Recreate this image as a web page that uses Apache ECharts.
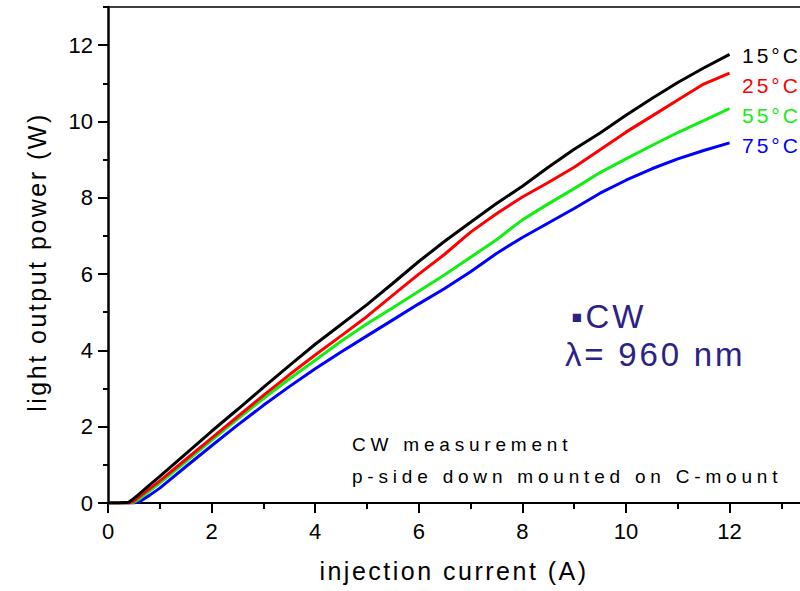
<!DOCTYPE html>
<html><head><meta charset="utf-8">
<script src="https://cdn.jsdelivr.net/npm/echarts@6/dist/echarts.min.js"></script>
<style>
html,body{margin:0;padding:0;background:#fff}
#chart{width:800px;height:591px}
#chart text[style*="19px"]{letter-spacing:4.8px}
#chart text[style*="25px"]{letter-spacing:2.5px}
#chart text[style*="21px"]{letter-spacing:3px}
#chart text[style*="33px"]{letter-spacing:2.8px}
</style></head><body><div id="chart"></div>
<script>
// injection current (A)
const current = [0, 0.2, 0.4, 0.5, 0.6, 0.8, 1, 1.5, 2, 2.5, 3, 3.5, 4, 4.5, 5, 5.5, 6, 6.5, 7, 7.5, 8, 8.5, 9, 9.5, 10, 10.5, 11, 11.5, 12];
// light output power (W)
const power15 = [0, 0, 0.02, 0.12, 0.23, 0.47, 0.70, 1.29, 1.88, 2.45, 3.03, 3.60, 4.16, 4.68, 5.20, 5.76, 6.33, 6.86, 7.36, 7.85, 8.30, 8.80, 9.27, 9.70, 10.16, 10.60, 11.02, 11.40, 11.76];
const power25 = [0, 0, 0, 0.05, 0.16, 0.37, 0.58, 1.14, 1.70, 2.26, 2.82, 3.36, 3.88, 4.38, 4.89, 5.45, 6.00, 6.52, 7.10, 7.58, 8.02, 8.40, 8.80, 9.26, 9.72, 10.14, 10.56, 10.98, 11.27];
const power55 = [0, 0, 0, 0.02, 0.10, 0.31, 0.52, 1.08, 1.64, 2.20, 2.74, 3.25, 3.74, 4.24, 4.70, 5.12, 5.55, 5.98, 6.44, 6.90, 7.42, 7.84, 8.24, 8.66, 9.02, 9.37, 9.71, 10.02, 10.34];
const power75 = [0, 0, 0, 0, 0.03, 0.20, 0.39, 0.95, 1.50, 2.04, 2.56, 3.05, 3.52, 3.96, 4.38, 4.80, 5.22, 5.62, 6.06, 6.54, 6.96, 7.34, 7.72, 8.12, 8.46, 8.76, 9.02, 9.24, 9.44];
const seriesNames = ['15°C', '25°C', '55°C', '75°C'];
const seriesColors = ['#000000', '#ff0000', '#11ee11', '#0000ff'];
// tick values
const xMajorTicks = [0, 2, 4, 6, 8, 10, 12];
const xMinorTicks = [1, 3, 5, 7, 9, 11, 13];
const yMajorTicks = [0, 2, 4, 6, 8, 10, 12];
const yMinorTicks = [1, 3, 5, 7, 9, 11, 13];
const xTitle = 'injection current (A)';
const yTitle = 'light output power (W)';
const noteLines = ['CW measurement', 'p-side down mounted on C-mount'];
const cwText = '▪CW';
const lambdaText = 'λ= 960 nm';

const FONT = "'Liberation Sans', Arial, sans-serif";
const pair = arr => current.map((c, i) => [c, arr[i]]);
const allPowers = [power15, power25, power55, power75];

const XMAX = 13.36, YMAX = 13;
const chart = echarts.init(document.getElementById('chart'), null, {renderer: 'svg'});
const axisLineStyle = {color: '#000', width: 2};
chart.setOption({
  animation: false,
  backgroundColor: '#fff',
  grid: {left: 108, right: 0, top: 7, bottom: 88, containLabel: false},
  xAxis: [
    {type: 'value', min: 0, max: XMAX, position: 'bottom',
     axisLine: {show: true, onZero: false, lineStyle: axisLineStyle},
     axisTick: {show: true, length: 10, customValues: xMajorTicks, lineStyle: {color: '#000', width: 2}},
     axisLabel: {show: true, customValues: xMajorTicks, fontSize: 22, fontFamily: FONT, color: '#000', margin: 17},
     splitLine: {show: false},
     name: xTitle, nameLocation: 'middle', nameGap: 55,
     nameTextStyle: {fontSize: 25, fontFamily: FONT, color: '#000'}},
    {type: 'value', min: 0, max: XMAX, position: 'bottom',
     axisLine: {show: false, onZero: false},
     axisTick: {show: true, length: 6, customValues: xMinorTicks, lineStyle: {color: '#000', width: 2}},
     axisLabel: {show: false}, splitLine: {show: false}},
    {type: 'value', min: 0, max: XMAX, position: 'top',
     axisLine: {show: true, onZero: false, lineStyle: {color: '#000', width: 1.5}},
     axisTick: {show: false}, axisLabel: {show: false}, splitLine: {show: false}}
  ],
  yAxis: [
    {type: 'value', min: 0, max: YMAX, position: 'left',
     axisLine: {show: true, onZero: false, lineStyle: {color: '#000', width: 2.5}},
     axisTick: {show: true, length: 10, customValues: yMajorTicks, lineStyle: {color: '#000', width: 2}},
     axisLabel: {show: true, customValues: yMajorTicks, fontSize: 22, fontFamily: FONT, color: '#000', margin: 15},
     splitLine: {show: false},
     name: yTitle, nameLocation: 'middle', nameGap: 59,
     nameTextStyle: {fontSize: 25, fontFamily: FONT, color: '#000', padding: [0, 14, 0, 0]}},
    {type: 'value', min: 0, max: YMAX, position: 'left',
     axisLine: {show: false, onZero: false},
     axisTick: {show: true, length: 5, customValues: yMinorTicks, lineStyle: {color: '#000', width: 2}},
     axisLabel: {show: false}, splitLine: {show: false}}
  ],
  series: allPowers.map((p, i) => ({
    name: seriesNames[i], type: 'line', xAxisIndex: 0, yAxisIndex: 0,
    data: pair(p), showSymbol: false, symbol: 'none', smooth: false,
    lineStyle: {color: seriesColors[i], width: 3}, z: 10 - i
  })),
  graphic: [
    ...seriesNames.map((n, i) => ({type: 'text', x: 742, y: 55 + 30 * i,
      style: {text: n, fontSize: 21, fontFamily: FONT, fill: seriesColors[i], align: 'left', verticalAlign: 'middle'}})),
    {type: 'text', x: 352, y: 444, style: {text: noteLines[0], fontSize: 19, fontFamily: FONT, fill: '#000', align: 'left', verticalAlign: 'middle'}},
    {type: 'text', x: 352, y: 476, style: {text: noteLines[1], fontSize: 19, fontFamily: FONT, fill: '#000', align: 'left', verticalAlign: 'middle'}},
    {type: 'text', x: 571, y: 316, style: {text: cwText, fontSize: 33, fontFamily: FONT, fill: '#2b2288', align: 'left', verticalAlign: 'middle'}},
    {type: 'text', x: 565, y: 354, style: {text: lambdaText, fontSize: 33, fontFamily: FONT, fill: '#2b2288', align: 'left', verticalAlign: 'middle'}}
  ]
});
</script></body></html>
